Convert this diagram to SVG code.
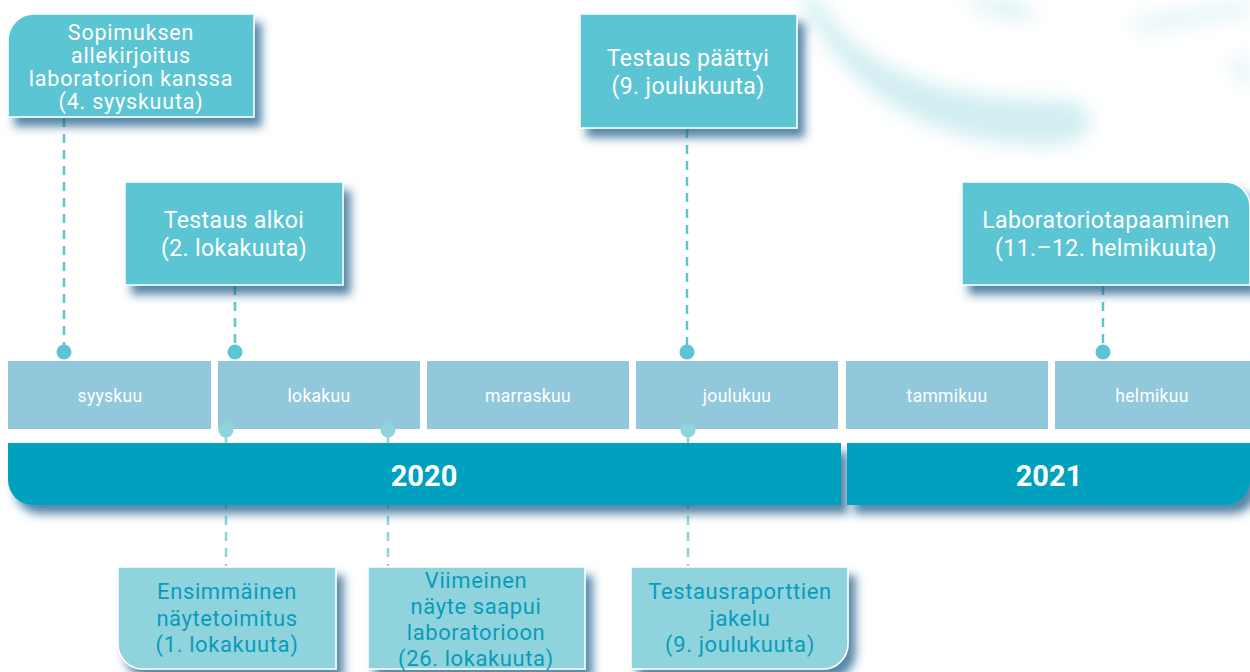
<svg xmlns="http://www.w3.org/2000/svg" width="1250" height="672" viewBox="0 0 1250 672">
<defs>
<filter id="sh" x="-20%" y="-20%" width="150%" height="160%">
<feGaussianBlur in="SourceAlpha" stdDeviation="5"/>
<feOffset dx="7" dy="9" result="b"/>
<feFlood flood-color="#1f5e8c" flood-opacity="0.75"/>
<feComposite in2="b" operator="in"/>
<feMerge><feMergeNode/><feMergeNode in="SourceGraphic"/></feMerge>
</filter>
<filter id="bl" x="-30%" y="-30%" width="160%" height="160%"><feGaussianBlur stdDeviation="9"/></filter>
<style>
.top{fill:#5bc5d3;stroke:#ffffff;stroke-width:1.5}
.bot{fill:#8fd4dd;stroke:#ffffff;stroke-width:1.5}
.mon{fill:#92c8db}
.yr{fill:#04a0bf}
.tw{font-family:Roboto,"Noto Sans",sans-serif;font-size:23px;letter-spacing:0.4px;fill:#ffffff;text-anchor:middle}
.tw1{font-size:21.5px;letter-spacing:0.8px}
.tb{font-family:Roboto,"Noto Sans",sans-serif;font-size:22px;letter-spacing:0.6px;fill:#0a9bbb;text-anchor:middle}
.tm{font-family:Roboto,"Noto Sans",sans-serif;font-size:17.5px;letter-spacing:0.3px;fill:#ffffff;text-anchor:middle}
.ty{font-family:Roboto,"Noto Sans",sans-serif;font-size:29px;font-weight:bold;fill:#ffffff;text-anchor:middle}
.dl{stroke:#5bc5d3;stroke-width:2.5;stroke-dasharray:9 7;fill:none}
.dl2{stroke:#8fd4dd;stroke-width:2.5;stroke-dasharray:9 7;fill:none}
.d1{fill:#5bc5d3}
.d2{fill:#8fd4dd}
</style>
</defs>
<rect width="1250" height="672" fill="#ffffff"/>
<g id="background" opacity="0.35" filter="url(#bl)">
<path d="M820 0 C850 60 930 100 1060 100 C1100 100 1100 140 1060 145 C940 150 850 100 800 0 Z" fill="#7fcfd9"/>
<path d="M960 0 C980 15 1010 22 1040 20 L1020 0 Z" fill="#9fdbe3"/>
<path d="M1130 20 C1170 10 1220 5 1250 0 L1250 15 C1210 22 1170 30 1140 32 Z" fill="#b5e3ea"/>
<path d="M1230 60 C1240 55 1250 55 1250 55 L1250 90 C1240 85 1232 75 1230 60 Z" fill="#b5e3ea"/>
</g>
<g id="connectors">
<line class="dl" x1="64" y1="118" x2="64" y2="345"/>
<line class="dl" x1="235" y1="286" x2="235" y2="345"/>
<line class="dl" x1="687" y1="129" x2="687" y2="345"/>
<line class="dl" x1="1103" y1="286" x2="1103" y2="345"/>
<line class="dl2" x1="226" y1="436" x2="226" y2="566"/>
<line class="dl2" x1="388" y1="436" x2="388" y2="566"/>
<line class="dl2" x1="688" y1="436" x2="688" y2="566"/>
<circle class="d1" cx="64" cy="352" r="7.5"/>
<circle class="d1" cx="235" cy="352" r="7.5"/>
<circle class="d1" cx="687" cy="352" r="7.5"/>
<circle class="d1" cx="1103" cy="352" r="7.5"/>
</g>
<g id="months">
<rect class="mon" x="8" y="361" width="203" height="68"/>
<rect class="mon" x="218" y="361" width="202" height="68"/>
<rect class="mon" x="427" y="361" width="202" height="68"/>
<rect class="mon" x="636" y="361" width="202" height="68"/>
<rect class="mon" x="846" y="361" width="202" height="68"/>
<rect class="mon" x="1055" y="361" width="195" height="68"/>
<text class="tm" x="110" y="402">syyskuu</text>
<text class="tm" x="319" y="402">lokakuu</text>
<text class="tm" x="528" y="402">marraskuu</text>
<text class="tm" x="737" y="402">joulukuu</text>
<text class="tm" x="947" y="402">tammikuu</text>
<text class="tm" x="1152" y="402">helmikuu</text>
</g>
<g id="years">
<path class="yr" filter="url(#sh)" d="M8 443 H841 V505 H33 A25 25 0 0 1 8 480 Z"/>
<path class="yr" filter="url(#sh)" d="M847 443 H1250 V480 A25 25 0 0 1 1225 505 H847 Z"/>
<text class="ty" x="424" y="486">2020</text>
<text class="ty" x="1049" y="486">2021</text>
</g>
<g id="lowdots">
<circle class="d2" cx="226" cy="430" r="7.5"/>
<circle class="d2" cx="388" cy="430" r="7.5"/>
<circle class="d2" cx="688" cy="430" r="7.5"/>
</g>
<g id="n1">
<path class="top" filter="url(#sh)" d="M8 40 A26 26 0 0 1 34 14 H254 V117 H8 Z"/>
<text class="tw tw1" x="131" y="40"><tspan x="131">Sopimuksen</tspan><tspan x="131" dy="23">allekirjoitus</tspan><tspan x="131" dy="23">laboratorion kanssa</tspan><tspan x="131" dy="23">(4. syyskuuta)</tspan></text>
</g>
<g id="n2">
<rect class="top" filter="url(#sh)" x="125" y="182" width="218" height="103"/>
<text class="tw" x="234" y="228"><tspan x="234">Testaus alkoi</tspan><tspan x="234" dy="28">(2. lokakuuta)</tspan></text>
</g>
<g id="n3">
<rect class="top" filter="url(#sh)" x="580" y="14" width="217" height="114"/>
<text class="tw" x="688" y="66"><tspan x="688">Testaus päättyi</tspan><tspan x="688" dy="28">(9. joulukuuta)</tspan></text>
</g>
<g id="n4">
<path class="top" filter="url(#sh)" d="M962 182 H1225 A25 25 0 0 1 1250 207 V285 H962 Z"/>
<text class="tw" x="1106" y="228"><tspan x="1106">Laboratoriotapaaminen</tspan><tspan x="1106" dy="28">(11.–12. helmikuuta)</tspan></text>
</g>
<g id="n5">
<path class="bot" filter="url(#sh)" d="M118 567 H336 V669 H143 A25 25 0 0 1 118 644 Z"/>
<text class="tb" x="227" y="599"><tspan x="227">Ensimmäinen</tspan><tspan x="227" dy="26.5">näytetoimitus</tspan><tspan x="227" dy="26.5">(1. lokakuuta)</tspan></text>
</g>
<g id="n6">
<rect class="bot" filter="url(#sh)" x="368" y="567" width="217" height="102"/>
<text class="tb" x="476" y="588"><tspan x="476">Viimeinen</tspan><tspan x="476" dy="26">näyte saapui</tspan><tspan x="476" dy="26">laboratorioon</tspan><tspan x="476" dy="26">(26. lokakuuta)</tspan></text>
</g>
<g id="n7">
<path class="bot" filter="url(#sh)" d="M631 567 H848 V644 A25 25 0 0 1 823 669 H631 Z"/>
<text class="tb" x="740" y="599"><tspan x="740">Testausraporttien</tspan><tspan x="740" dy="26.5">jakelu</tspan><tspan x="740" dy="26.5">(9. joulukuuta)</tspan></text>
</g>
</svg>
